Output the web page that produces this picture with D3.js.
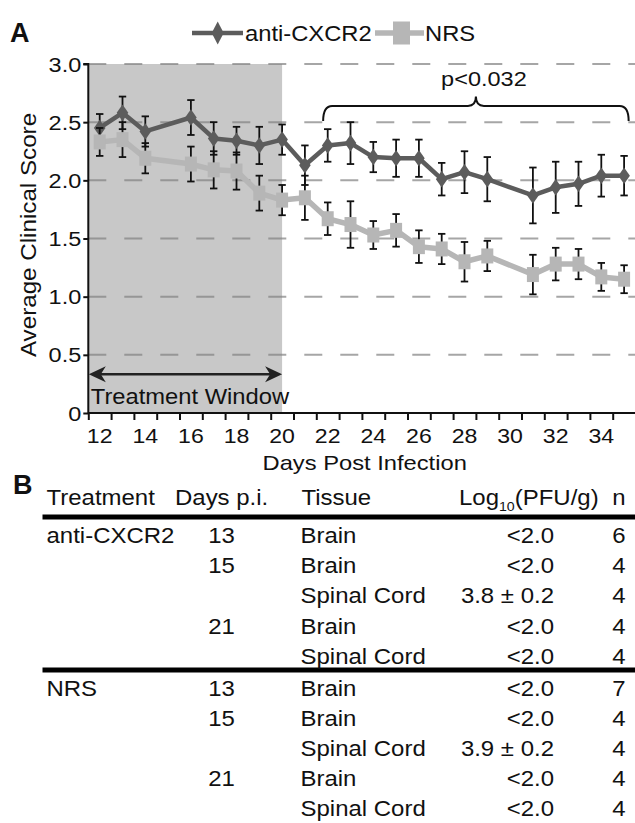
<!DOCTYPE html>
<html>
<head>
<meta charset="utf-8">
<script src="https://cdnjs.cloudflare.com/ajax/libs/d3/7.8.5/d3.min.js"></script>
<style>
  html, body { margin: 0; padding: 0; background: #ffffff; }
  svg { display: block; font-family: "Liberation Sans", Arial, Helvetica, sans-serif; }
</style>
</head>
<body>
<script>
// ---------------- DATA ----------------
const days = [12, 13, 14, 16, 17, 18, 19, 20, 21, 22, 23, 24, 25, 26, 27, 28, 29, 31, 32, 33, 34, 35];
const antiCXCR2 = [2.45, 2.58, 2.42, 2.54, 2.36, 2.34, 2.30, 2.35, 2.13, 2.30, 2.32, 2.20, 2.19, 2.19, 2.01, 2.07, 2.01, 1.87, 1.94, 1.97, 2.04, 2.04];
const antiCXCR2Err = [0.12, 0.14, 0.13, 0.15, 0.14, 0.12, 0.16, 0.13, 0.17, 0.14, 0.18, 0.13, 0.16, 0.16, 0.14, 0.18, 0.19, 0.24, 0.22, 0.19, 0.18, 0.17];
const nrs = [2.33, 2.35, 2.19, 2.14, 2.09, 2.08, 1.89, 1.83, 1.85, 1.67, 1.62, 1.53, 1.57, 1.43, 1.41, 1.30, 1.35, 1.19, 1.28, 1.28, 1.17, 1.15];
const nrsErr = [0.12, 0.15, 0.13, 0.15, 0.16, 0.16, 0.15, 0.13, 0.19, 0.14, 0.20, 0.12, 0.14, 0.14, 0.13, 0.17, 0.13, 0.17, 0.14, 0.13, 0.12, 0.12];
const yTicks = [0, 0.5, 1.0, 1.5, 2.0, 2.5, 3.0];
const yTickLabels = ["0", "0.5", "1.0", "1.5", "2.0", "2.5", "3.0"];
const xTickLabels = [12, 14, 16, 18, 20, 22, 24, 26, 28, 30, 32, 34];
const seriesNames = ["anti-CXCR2", "NRS"];
const treatmentWindow = [11.5, 20];
const pValueText = "p<0.032";
const pValueRange = [21.8, 35.2];

// table
const tableHeader = ["Treatment", "Days p.i.", "Tissue", "Log10(PFU/g)", "n"];
const tTreatment = ["anti-CXCR2", "", "", "", "", "NRS", "", "", "", ""];
const tDays = ["13", "15", "", "21", "", "13", "15", "", "21", ""];
const tTissue = ["Brain", "Brain", "Spinal Cord", "Brain", "Spinal Cord", "Brain", "Brain", "Spinal Cord", "Brain", "Spinal Cord"];
const tPFU = ["<2.0", "<2.0", "3.8 ± 0.2", "<2.0", "<2.0", "<2.0", "<2.0", "3.9 ± 0.2", "<2.0", "<2.0"];
const tN = ["6", "4", "4", "4", "4", "7", "4", "4", "4", "4"];

// ---------------- STYLE ----------------
const DARK = "#5c5c5c";
const LIGHT = "#b6b6b6";
const SHADE = "#c8c8c8";
const TXT = "#111111";

const W = 635, H = 823;
const svg = d3.select("body").append("svg").attr("width", W).attr("height", H);

function T(sel, x, y, s, o = {}) {
  const t = sel.append("text")
    .attr("transform", `translate(${x},${y}) rotate(${o.rot || 0}) scale(${o.sx || 1},1)`)
    .attr("font-size", o.size || 20)
    .attr("text-anchor", o.anchor || "start")
    .attr("font-weight", o.weight || "normal")
    .attr("fill", o.fill || TXT);
  if (s !== null) t.text(s);
  return t;
}

// ---------------- SCALES ----------------
const x = d3.scaleLinear().domain([11.5, 35.5]).range([88.3, 635.5]);
const y = d3.scaleLinear().domain([0, 3]).range([413, 64]);

const chart = svg.append("g");

// shaded treatment window
chart.append("rect")
  .attr("x", x(treatmentWindow[0])).attr("y", y(3))
  .attr("width", x(treatmentWindow[1]) - x(treatmentWindow[0]))
  .attr("height", y(0) - y(3))
  .attr("fill", SHADE);

// gridlines
chart.append("g").selectAll("line")
  .data(yTicks.filter(d => d > 0))
  .join("line")
  .attr("x1", x(11.5)).attr("x2", x(35.5))
  .attr("y1", d => y(d)).attr("y2", d => y(d))
  .attr("stroke", "#808080").attr("stroke-opacity", 0.7)
  .attr("stroke-width", 2).attr("stroke-dasharray", "18,18");

// Y axis
const yAxis = chart.append("g").attr("transform", `translate(${x(11.5)},0)`)
  .call(d3.axisLeft(y).tickValues(yTicks).tickSize(5).tickFormat(""));
yAxis.select(".domain").attr("stroke", "#111").attr("stroke-width", 2).attr("d", `M-5,${y(3)}H0V${y(0)}`);
yAxis.selectAll(".tick line").attr("stroke", "#111").attr("stroke-width", 2);
yTicks.forEach((v, i) => T(chart, x(11.5) - 7, y(v) + 7.5, yTickLabels[i], { size: 21, anchor: "end", sx: 1.12 }));

// X axis (category boundaries ticks)
const boundaries = d3.range(11.5, 36, 1);
const xAxis = chart.append("g").attr("transform", `translate(0,${y(0)})`)
  .call(d3.axisBottom(x).tickValues(boundaries).tickSize(7).tickFormat(""));
xAxis.select(".domain").attr("stroke", "#111").attr("stroke-width", 2).attr("d", `M${x(11.5)},0H${x(35.5)}`);
xAxis.selectAll(".tick line").attr("stroke", "#111").attr("stroke-width", 2);
xTickLabels.forEach(d => T(chart, x(d), y(0) + 30, String(d), { size: 21, anchor: "middle", sx: 1.1 }));

// axis titles
T(chart, 364.7, 470, "Days Post Infection", { size: 21, anchor: "middle", sx: 1.13 });
T(chart, 36, 235, "Average Clinical Score", { size: 22, anchor: "middle", sx: 1.1, rot: -90 });

// treatment window arrow
const ay = y(0.333), ax0 = x(treatmentWindow[0]) + 0.5, ax1 = x(treatmentWindow[1]);
chart.append("line").attr("x1", ax0 + 10).attr("x2", ax1 - 10).attr("y1", ay).attr("y2", ay)
  .attr("stroke", "#222").attr("stroke-width", 2.5);
chart.append("path").attr("fill", "#222")
  .attr("d", `M${ax0},${ay} L${ax0 + 17},${ay - 8} L${ax0 + 12},${ay} L${ax0 + 17},${ay + 8} Z`);
chart.append("path").attr("fill", "#222")
  .attr("d", `M${ax1},${ay} L${ax1 - 17},${ay - 8} L${ax1 - 12},${ay} L${ax1 - 17},${ay + 8} Z`);
T(chart, x(treatmentWindow[0]) + 2.5, y(0) - 9, "Treatment Window", { size: 22, sx: 1.08 });

// p-value bracket
const bx0 = x(pValueRange[0]), bx1 = x(pValueRange[1]), bxm = (bx0 + bx1) / 2;
const byL = y(2.64), byE = y(2.51), byP = y(2.72);
chart.append("path")
  .attr("fill", "none").attr("stroke", "#111").attr("stroke-width", 2)
  .attr("d", `M${bx0},${byE} Q${bx0},${byL} ${bx0 + 9},${byL} L${bxm - 8},${byL} Q${bxm},${byL} ${bxm},${byP} Q${bxm},${byL} ${bxm + 8},${byL} L${bx1 - 9},${byL} Q${bx1},${byL} ${bx1},${byE}`);
T(chart, bxm + 8, y(2.64) - 20, pValueText, { size: 21, anchor: "middle", sx: 1.12 });

// ---------------- SERIES ----------------
function drawSeries(vals, errs, color, width, marker) {
  const g = chart.append("g");
  const pts = days.map((d, i) => ({ d, v: vals[i], e: errs[i] }));
  const eb = g.append("g").attr("stroke", "#111").attr("stroke-width", 1.8);
  pts.forEach(p => {
    eb.append("line").attr("x1", x(p.d)).attr("x2", x(p.d)).attr("y1", y(p.v - p.e)).attr("y2", y(p.v + p.e));
    eb.append("line").attr("x1", x(p.d) - 3.7).attr("x2", x(p.d) + 3.7).attr("y1", y(p.v + p.e)).attr("y2", y(p.v + p.e));
    eb.append("line").attr("x1", x(p.d) - 3.7).attr("x2", x(p.d) + 3.7).attr("y1", y(p.v - p.e)).attr("y2", y(p.v - p.e));
  });
  g.append("path").datum(pts)
    .attr("fill", "none").attr("stroke", color).attr("stroke-width", width).attr("stroke-linejoin", "round")
    .attr("d", d3.line().x(p => x(p.d)).y(p => y(p.v)));
  if (marker === "diamond") {
    g.selectAll("path.m").data(pts).join("path").attr("class", "m")
      .attr("fill", color)
      .attr("d", p => `M${x(p.d)},${y(p.v) - 8.3} L${x(p.d) + 5.8},${y(p.v)} L${x(p.d)},${y(p.v) + 8.3} L${x(p.d) - 5.8},${y(p.v)} Z`);
  } else {
    g.selectAll("rect.m").data(pts).join("rect").attr("class", "m")
      .attr("fill", color)
      .attr("x", p => x(p.d) - 6).attr("y", p => y(p.v) - 7.5)
      .attr("width", 12).attr("height", 15);
  }
}
drawSeries(antiCXCR2, antiCXCR2Err, DARK, 4.5, "diamond");
drawSeries(nrs, nrsErr, LIGHT, 5.5, "square");

// ---------------- LEGEND ----------------
const lg = svg.append("g");
const ly = 33;
lg.append("line").attr("x1", 192).attr("x2", 243).attr("y1", ly).attr("y2", ly).attr("stroke", DARK).attr("stroke-width", 4.5);
lg.append("path").attr("fill", DARK).attr("d", `M217.7,${ly - 11.5} L223.7,${ly} L217.7,${ly + 11.5} L211.7,${ly} Z`);
T(lg, 245, ly + 8, seriesNames[0], { size: 22, sx: 1.08 });
lg.append("line").attr("x1", 375).attr("x2", 424).attr("y1", ly).attr("y2", ly).attr("stroke", LIGHT).attr("stroke-width", 5.5);
lg.append("rect").attr("fill", LIGHT).attr("x", 393).attr("y", ly - 11.5).attr("width", 17).attr("height", 23);
T(lg, 425, ly + 8, seriesNames[1], { size: 22, sx: 1.08 });

// panel letters
T(svg, 10, 42, "A", { size: 27, weight: "bold" });
T(svg, 13, 494, "B", { size: 27, weight: "bold" });

// ---------------- TABLE ----------------
const tb = svg.append("g");
const colTreat = 46.5, colDaysHdr = 175, colDays = 221.5, colTissue = 300.5, colPFUHdr = 459, colPFU = 554, colN = 619;
const hdrBase = 505;
T(tb, colTreat, hdrBase, tableHeader[0], { size: 22, sx: 1.09 });
T(tb, colDaysHdr, hdrBase, tableHeader[1], { size: 22, sx: 1.09 });
T(tb, colTissue + 1, hdrBase, tableHeader[2], { size: 22, sx: 1.09 });
const lt = T(tb, colPFUHdr, hdrBase, null, { size: 22, sx: 1.09 });
lt.append("tspan").text("Log");
lt.append("tspan").attr("font-size", 13).attr("dy", 6).text("10");
lt.append("tspan").attr("dy", -6).text("(PFU/g)");
T(tb, colN, hdrBase, tableHeader[4], { size: 22, sx: 1.09, anchor: "middle" });

tb.append("line").attr("x1", 42.5).attr("x2", W).attr("y1", 517).attr("y2", 517).attr("stroke", "#000").attr("stroke-width", 5);
tb.append("line").attr("x1", 42.5).attr("x2", W).attr("y1", 670).attr("y2", 670).attr("stroke", "#000").attr("stroke-width", 5);

tTissue.forEach((_, i) => {
  const mid = i < 5 ? 535 + i * 30.2 : 688 + (i - 5) * 30;
  const b = mid + 8;
  if (tTreatment[i]) T(tb, colTreat, b, tTreatment[i], { size: 22, sx: 1.09 });
  if (tDays[i]) T(tb, colDays, b, tDays[i], { size: 22, sx: 1.09, anchor: "middle" });
  T(tb, colTissue, b, tTissue[i], { size: 22, sx: 1.09 });
  T(tb, colPFU, b, tPFU[i], { size: 22, sx: 1.09, anchor: "end" });
  T(tb, colN, b, tN[i], { size: 22, sx: 1.09, anchor: "middle" });
});
</script>
</body>
</html>
